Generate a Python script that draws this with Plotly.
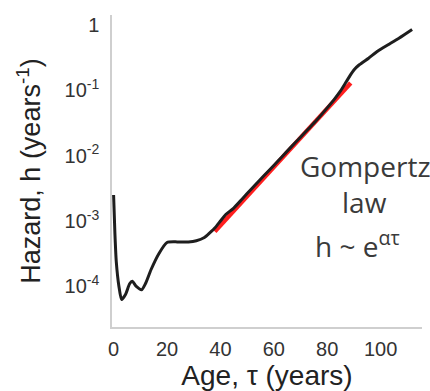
import plotly.graph_objects as go

# Age (years) and hazard h (per year)
age = [0, 0.5, 1, 2, 3, 4.5, 6, 7, 8.5, 10.5, 12, 14, 17, 20, 24, 28, 31, 34, 36, 38,
       40, 42, 45, 48, 50, 53, 56, 60, 63, 66, 70, 73, 76, 80, 83, 85, 87, 88.5, 90,
       92, 95.5, 99, 103, 107, 111.8]
hazard = [2.5e-3, 6.3e-4, 2.4e-4, 1.0e-4, 6.3e-5, 7.6e-5, 1.1e-4, 1.2e-4, 1.0e-4, 8.9e-5,
          1.12e-4, 1.8e-4, 3.2e-4, 4.7e-4, 4.8e-4, 4.8e-4, 5.0e-4, 5.6e-4, 6.6e-4, 7.9e-4,
          1.0e-3, 1.26e-3, 1.58e-3, 2.14e-3, 2.63e-3, 3.55e-3, 4.79e-3, 7.08e-3, 9.55e-3,
          1.29e-2, 1.91e-2, 2.57e-2, 3.47e-2, 5.37e-2, 7.59e-2, 9.77e-2, 0.132, 0.166,
          0.204, 0.245, 0.309, 0.398, 0.501, 0.631, 0.851]

# Gompertz fit (red straight line on log axis)
fit_age = [37.9, 88.8]
fit_hazard = [6.9e-4, 0.129]

y_tickvals = [1, 0.1, 0.01, 0.001, 0.0001]
y_ticktext = ["1", "10<sup>-1</sup>", "10<sup>-2</sup>", "10<sup>-3</sup>", "10<sup>-4</sup>"]
x_tickvals = [0, 20, 40, 60, 80, 100]
x_ticktext = ["0", "20", "40", "60", "80", "100"]

FONT = "Liberation Sans"

fig = go.Figure()
fig.add_trace(go.Scatter(x=fit_age, y=fit_hazard, mode="lines",
                         line=dict(color="#ff1f1f", width=4.5), hoverinfo="skip"))
fig.add_trace(go.Scatter(x=age, y=hazard, mode="lines",
                         line=dict(color="#1e1e1e", width=3, shape="spline", smoothing=0.6)))

ann_font = dict(family="Open Sans", size=28, color="#3a3a3a")
fig.add_annotation(text="Gompertz", xref="paper", yref="paper", x=0.819, y=0.515,
                   xanchor="center", yanchor="middle", showarrow=False, font=ann_font)
fig.add_annotation(text="law", xref="paper", yref="paper", x=0.816, y=0.4,
                   xanchor="center", yanchor="middle", showarrow=False, font=ann_font)
fig.add_annotation(text="h ~ e<sup>ατ</sup>", xref="paper", yref="paper", x=0.792, y=0.263,
                   xanchor="center", yanchor="middle", showarrow=False, font=ann_font)

fig.update_layout(
    width=430, height=391,
    margin=dict(l=112, r=8, t=15, b=64),
    paper_bgcolor="white", plot_bgcolor="white",
    showlegend=False,
    font=dict(family=FONT, color="#333333"),
)
fig.update_xaxes(
    range=[-0.6, 115.5], showgrid=False, zeroline=False,
    showline=True, linecolor="#cfcfcf", linewidth=1.5,
    tickvals=x_tickvals, ticktext=x_ticktext,
    ticks="outside", ticklen=3, tickcolor="rgba(0,0,0,0)",
    tickfont=dict(family=FONT, size=20, color="#333333"),
    title=dict(text="Age, τ (years)", font=dict(family=FONT, size=28, color="#222222"), standoff=1),
    automargin=False,
)
fig.update_yaxes(
    type="log", range=[-4.62, 0.15], showgrid=False, zeroline=False,
    showline=True, linecolor="#cfcfcf", linewidth=1.5,
    tickvals=y_tickvals, ticktext=y_ticktext,
    ticks="outside", ticklen=7, tickcolor="rgba(0,0,0,0)",
    tickfont=dict(family=FONT, size=20, color="#333333"),
    title=dict(text="Hazard, h (years<sup>-1</sup>)", font=dict(family=FONT, size=27, color="#222222"), standoff=16),
    automargin=False,
)

fig.write_html("out.html")
